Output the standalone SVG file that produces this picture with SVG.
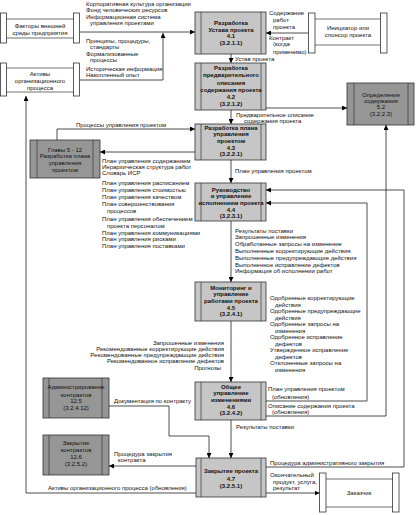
<svg xmlns="http://www.w3.org/2000/svg" width="416" height="515" viewBox="0 0 416 515">
<defs>
<marker id="ah" markerWidth="5" markerHeight="5" refX="5" refY="2.5" orient="auto" markerUnits="userSpaceOnUse">
<path d="M0,0 L5,2.5 L0,5 z" fill="#000"/>
</marker>
<style>
text{font-family:"Liberation Sans",Arial,sans-serif;font-size:6px;fill:#111}
.c{text-anchor:middle}
.e{text-anchor:end}
.b{font-weight:bold;text-anchor:middle}
.p{fill:#c6c6c6;stroke:#333;stroke-width:0.8}
.d{fill:#969696;stroke:#333;stroke-width:0.8}
.il{stroke:#333;stroke-width:0.7}
.bar{fill:#fff;stroke:#333;stroke-width:0.8}
.hl{stroke:#333;stroke-width:0.7}
.cn{fill:none;stroke:#222;stroke-width:0.8}
</style>
</defs>
<rect width="416" height="515" fill="#fff"/>

<g id="factors">
<rect class="bar" x="0.5" y="13" width="6" height="30"/>
<rect class="bar" x="73.5" y="13" width="6" height="30"/>
<line class="hl" x1="6.5" y1="19" x2="73.5" y2="19"/>
<line class="hl" x1="6.5" y1="38" x2="73.5" y2="38"/>
<text class="c" x="40" y="27.5">Факторы внешней</text>
<text class="c" x="40" y="35">среды предприятия</text>
</g>

<g id="assets">
<rect class="bar" x="0.5" y="63" width="6" height="33"/>
<rect class="bar" x="73.5" y="63" width="6" height="33"/>
<line class="hl" x1="6.5" y1="68" x2="73.5" y2="68"/>
<line class="hl" x1="6.5" y1="92" x2="73.5" y2="92"/>
<text class="c" x="40" y="76">Активы</text>
<text class="c" x="40" y="83">организационного</text>
<text class="c" x="40" y="90">процесса</text>
</g>

<g id="sponsor">
<rect class="bar" x="308.5" y="13" width="6.5" height="40"/>
<rect class="bar" x="380.5" y="13" width="6.5" height="40"/>
<line class="hl" x1="315" y1="19" x2="380.5" y2="19"/>
<line class="hl" x1="315" y1="45" x2="380.5" y2="45"/>
<text class="c" x="348" y="30">Инициатор или</text>
<text class="c" x="348" y="37">спонсор проекта</text>
</g>

<g id="customer">
<rect class="bar" x="319.5" y="473" width="6.5" height="39"/>
<rect class="bar" x="392.5" y="473" width="6.5" height="39"/>
<line class="hl" x1="326" y1="479" x2="392.5" y2="479"/>
<line class="hl" x1="326" y1="507" x2="392.5" y2="507"/>
<text class="c" x="359" y="495">Заказчик</text>
</g>

<g id="p41">
<rect class="p" x="195" y="12" width="71" height="42"/>
<line class="il" x1="201" y1="12" x2="201" y2="54"/><line class="il" x1="261" y1="12" x2="261" y2="54"/>
<text class="b" x="231" y="25">Разработка</text>
<text class="b" x="231" y="31.5">Устава проекта</text>
<text class="b" x="231" y="38">4.1</text>
<text class="b" x="231" y="45">(3.2.1.1)</text>
</g>

<g id="p42">
<rect class="p" x="195" y="63" width="71" height="47"/>
<line class="il" x1="201" y1="63" x2="201" y2="110"/><line class="il" x1="261" y1="63" x2="261" y2="110"/>
<text class="b" x="231" y="70">Разработка</text>
<text class="b" x="231" y="77">предварительного</text>
<text class="b" x="231" y="84.5">описания</text>
<text class="b" x="231" y="92">содержания проекта</text>
<text class="b" x="231" y="99">4.2</text>
<text class="b" x="231" y="106">(3.2.1.2)</text>
</g>

<g id="p52">
<rect class="d" x="347" y="83" width="67" height="42"/>
<line class="il" x1="354" y1="83" x2="354" y2="125"/><line class="il" x1="408" y1="83" x2="408" y2="125"/>
<text class="c" x="381" y="97">Определение</text>
<text class="c" x="381" y="103">содержания</text>
<text class="c" x="381" y="109">5.2</text>
<text class="c" x="381" y="116">(3.2.2.3)</text>
</g>

<g id="p43">
<rect class="p" x="195" y="124" width="71" height="36"/>
<line class="il" x1="201" y1="124" x2="201" y2="160"/><line class="il" x1="261" y1="124" x2="261" y2="160"/>
<text class="b" x="231" y="130">Разработка плана</text>
<text class="b" x="231" y="136">управления</text>
<text class="b" x="231" y="143">проектом</text>
<text class="b" x="231" y="149.5">4.3</text>
<text class="b" x="231" y="156">(3.2.2.1)</text>
</g>

<g id="ch512">
<rect class="d" x="30" y="140" width="70" height="38"/>
<line class="il" x1="37" y1="140" x2="37" y2="178"/><line class="il" x1="93" y1="140" x2="93" y2="178"/>
<text class="c" x="65" y="152">Главы 5 - 12</text>
<text class="c" x="65" y="158">Разработка плана</text>
<text class="c" x="65" y="165">управления</text>
<text class="c" x="65" y="172">проектом</text>
</g>

<g id="p44">
<rect class="p" x="195" y="183" width="71" height="38"/>
<line class="il" x1="201" y1="183" x2="201" y2="221"/><line class="il" x1="261" y1="183" x2="261" y2="221"/>
<text class="b" x="231" y="192">Руководство</text>
<text class="b" x="231" y="198">и управление</text>
<text class="b" x="231" y="205">исполнением проекта</text>
<text class="b" x="231" y="212">4.4</text>
<text class="b" x="231" y="218">(3.2.3.1)</text>
</g>

<g id="p45">
<rect class="p" x="195" y="282" width="71" height="39"/>
<line class="il" x1="201" y1="282" x2="201" y2="321"/><line class="il" x1="261" y1="282" x2="261" y2="321"/>
<text class="b" x="231" y="290">Мониторинг и</text>
<text class="b" x="231" y="296">управление</text>
<text class="b" x="231" y="303">работами проекта</text>
<text class="b" x="231" y="310">4.5</text>
<text class="b" x="231" y="316">(3.2.4.1)</text>
</g>

<g id="p46">
<rect class="p" x="195" y="382" width="71" height="38"/>
<line class="il" x1="201" y1="382" x2="201" y2="420"/><line class="il" x1="261" y1="382" x2="261" y2="420"/>
<text class="b" x="231" y="389">Общее</text>
<text class="b" x="231" y="395">управление</text>
<text class="b" x="231" y="401.5">изменениями</text>
<text class="b" x="231" y="409">4.6</text>
<text class="b" x="231" y="415">(3.2.4.2)</text>
</g>

<g id="p125">
<rect class="d" x="43" y="378" width="66" height="40"/>
<line class="il" x1="49" y1="378" x2="49" y2="418"/><line class="il" x1="102" y1="378" x2="102" y2="418"/>
<text class="c" x="76" y="389">Администрирование</text>
<text class="c" x="76" y="396.5">контрактов</text>
<text class="c" x="76" y="403">12.5</text>
<text class="c" x="76" y="410">(3.2.4.12)</text>
</g>

<g id="p126">
<rect class="d" x="43" y="435" width="66" height="40"/>
<line class="il" x1="49" y1="435" x2="49" y2="475"/><line class="il" x1="102" y1="435" x2="102" y2="475"/>
<text class="c" x="76" y="445">Закрытие</text>
<text class="c" x="76" y="452">контрактов</text>
<text class="c" x="76" y="459">12.6</text>
<text class="c" x="76" y="466">(3.2.5.2)</text>
</g>

<g id="p47">
<rect class="p" x="196" y="458" width="70" height="39"/>
<line class="il" x1="201" y1="458" x2="201" y2="497"/><line class="il" x1="261" y1="458" x2="261" y2="497"/>
<text class="b" x="231" y="473">Закрытие проекта</text>
<text class="b" x="231" y="481">4.7</text>
<text class="b" x="231" y="488">(3.2.5.1)</text>
</g>

<g id="connectors">
<path class="cn" d="M80,32 H195" marker-end="url(#ah)"/>
<path class="cn" d="M80,80 H163 V33" marker-end="url(#ah)"/>
<path class="cn" d="M308,33 H266" marker-end="url(#ah)"/>
<path class="cn" d="M231,54 V63" marker-end="url(#ah)"/>
<path class="cn" d="M231,110 V124" marker-end="url(#ah)"/>
<path class="cn" d="M266,108 H347" marker-end="url(#ah)"/>
<path class="cn" d="M57,140 V129 H195" marker-end="url(#ah)"/>
<path class="cn" d="M195,152 H100" marker-end="url(#ah)"/>
<path class="cn" d="M231,160 V183" marker-end="url(#ah)"/>
<path class="cn" d="M231,221 V282" marker-end="url(#ah)"/>
<path class="cn" d="M231,321 V382" marker-end="url(#ah)"/>
<path class="cn" d="M231,420 V458" marker-end="url(#ah)"/>
<path class="cn" d="M266,401 H367 V203 H266" marker-end="url(#ah)"/>
<path class="cn" d="M266,416 H386 V125" marker-end="url(#ah)"/>
<path class="cn" d="M266,467 H404 V190 H266" marker-end="url(#ah)"/>
<path class="cn" d="M266,493 H319.5" marker-end="url(#ah)"/>
<path class="cn" d="M196,466 H109" marker-end="url(#ah)"/>
<path class="cn" d="M109,406 H169 V436 H209 V458" marker-end="url(#ah)"/>
<path class="cn" d="M196,493 H26 V96" marker-end="url(#ah)"/>
</g>

<g id="labels">
<text x="86" y="6">Корпоративная культура организации</text>
<text x="86" y="12">Фонд человеческих ресурсов</text>
<text x="86" y="19">Информационная система</text>
<text x="90" y="25">управления проектами</text>
<text x="86" y="43">Принципы, процедуры,</text>
<text x="90" y="49">стандарты</text>
<text x="86" y="56">Формализованные</text>
<text x="90" y="62">процессы</text>
<text x="86" y="71">Историческая информация</text>
<text x="86" y="77">Накопленный опыт</text>

<text x="269" y="15">Содержание</text>
<text x="273" y="22">работ</text>
<text x="273" y="29">проекта</text>
<text x="269" y="40">Контракт</text>
<text x="273" y="46">(когда</text>
<text x="273" y="54">применимо)</text>

<text x="235" y="61">Устав проекта</text>
<text x="236" y="117">Предварительное описание</text>
<text x="244" y="123">содержания проекта</text>

<text x="76" y="127">Процессы управления проектом</text>

<text x="102" y="163">План управления содержанием</text>
<text x="102" y="169">Иерархическая структура работ</text>
<text x="102" y="175">Словарь ИСР</text>
<text x="102" y="185">План управления расписанием</text>
<text x="102" y="192">План управления стоимостью</text>
<text x="102" y="199">План управления качеством</text>
<text x="102" y="206">План совершенствования</text>
<text x="107" y="213">процессов</text>
<text x="102" y="221">План управления обеспечением</text>
<text x="107" y="228">проекта персоналом</text>
<text x="102" y="235">План управления коммуникациями</text>
<text x="102" y="241">План управления рисками</text>
<text x="102" y="248">План управления поставками</text>

<text x="235" y="173">План управления проектом</text>

<text x="235" y="233">Результаты поставки</text>
<text x="235" y="239">Запрошенные изменения</text>
<text x="235" y="246">Обработанные запросы на изменение</text>
<text x="235" y="253">Выполненные корректирующие действия</text>
<text x="235" y="260">Выполненные предупреждающие действия</text>
<text x="235" y="267">Выполненное исправление дефектов</text>
<text x="235" y="273">Информация об исполнении работ</text>

<text x="270" y="300">Одобренные корректирующие</text>
<text x="275" y="306.5">действия</text>
<text x="270" y="313">Одобренные предупреждающие</text>
<text x="275" y="319.5">действия</text>
<text x="270" y="326">Одобренные запросы на</text>
<text x="275" y="332.5">изменения</text>
<text x="270" y="339">Одобренное исправление</text>
<text x="275" y="345.5">дефектов</text>
<text x="270" y="352">Утвержденное исправление</text>
<text x="275" y="358.5">дефектов</text>
<text x="270" y="365">Отклоненные запросы на</text>
<text x="275" y="371.5">изменения</text>

<text class="e" x="224" y="345">Запрошенные изменения</text>
<text class="e" x="224" y="351">Рекомендованные корректирующие действия</text>
<text class="e" x="224" y="357">Рекомендованные предупреждающие действия</text>
<text class="e" x="224" y="363">Рекомендованное исправление дефектов</text>
<text class="e" x="221" y="370">Прогнозы</text>

<text x="268" y="391">План управления проектом</text>
<text x="272" y="398.5">(обновления)</text>
<text x="268" y="408">Описание содержания проекта</text>
<text x="272" y="414">(обновления)</text>

<text x="114" y="403">Документация по контракту</text>
<text x="236" y="429">Результаты поставки</text>
<text x="114" y="456">Процедура закрытия</text>
<text x="118" y="462">контракта</text>
<text x="48" y="490">Активы организационного процесса (обновления)</text>
<text x="270" y="465">Процедура административного закрытия</text>
<text x="270" y="477">Окончательный</text>
<text x="273" y="484">продукт, услуга,</text>
<text x="273" y="490">результат</text>
</g>
</svg>
